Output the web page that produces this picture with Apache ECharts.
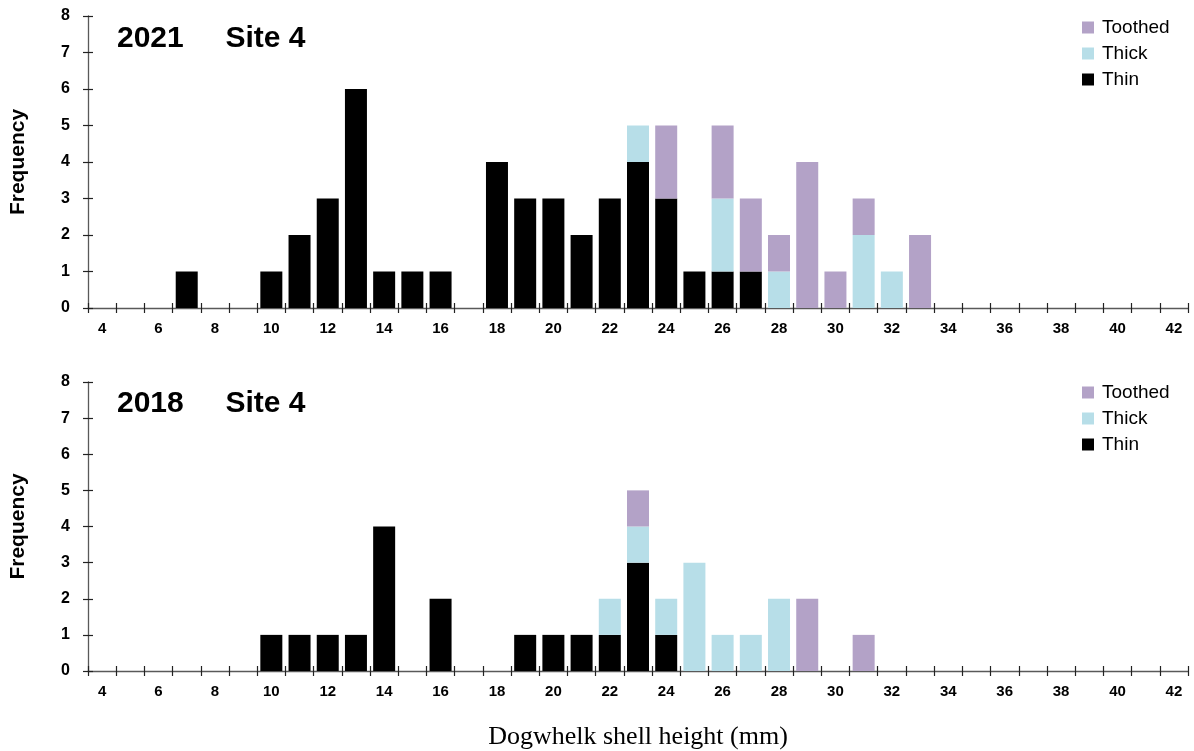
<!DOCTYPE html>
<html>
<head>
<meta charset="utf-8">
<script src="https://cdn.jsdelivr.net/npm/echarts@6/dist/echarts.min.js"></script>
<style>
  html, body { margin: 0; padding: 0; background: #fff; }
  #chart { width: 1194px; height: 751px; }
</style>
</head>
<body>
<div id="chart"></div>
<script>
// shell height classes (mm)
let sizes = ['4','5','6','7','8','9','10','11','12','13','14','15','16','17','18','19','20','21','22','23',
             '24','25','26','27','28','29','30','31','32','33','34','35','36','37','38','39','40','41','42'];

// 2021, site 4
let thin2021    = [0,0,0,1,0,0,1,2,3,6, 1,1,1,0,4,3,3,2,3,4, 3,1,1,1,0,0,0,0,0,0, 0,0,0,0,0,0,0,0,0];
let thick2021   = [0,0,0,0,0,0,0,0,0,0, 0,0,0,0,0,0,0,0,0,1, 0,0,2,0,1,0,0,2,1,0, 0,0,0,0,0,0,0,0,0];
let toothed2021 = [0,0,0,0,0,0,0,0,0,0, 0,0,0,0,0,0,0,0,0,0, 2,0,2,2,1,4,1,1,0,2, 0,0,0,0,0,0,0,0,0];

// 2018, site 4
let thin2018    = [0,0,0,0,0,0,1,1,1,1, 4,0,2,0,0,1,1,1,1,3, 1,0,0,0,0,0,0,0,0,0, 0,0,0,0,0,0,0,0,0];
let thick2018   = [0,0,0,0,0,0,0,0,0,0, 0,0,0,0,0,0,0,0,1,1, 1,3,1,1,2,0,0,0,0,0, 0,0,0,0,0,0,0,0,0];
let toothed2018 = [0,0,0,0,0,0,0,0,0,0, 0,0,0,0,0,0,0,0,0,1, 0,0,0,0,0,2,0,1,0,0, 0,0,0,0,0,0,0,0,0];

let panelTitles = ['2021     Site 4', '2018     Site 4'];
let yTicks = [0, 8, 1]; // min, max, step

let sans = 'Liberation Sans, Arial, sans-serif';
let colThin = '#000000', colThick = '#B7DEE8', colToothed = '#B3A2C7';
let axisCol = '#595959';

let myChart = echarts.init(document.getElementById('chart'));

let mainX = (grid, withName) => ({
    type: 'category', gridIndex: grid, data: sizes, position: 'bottom',
    axisLine: { show: true, lineStyle: { color: axisCol, width: 1.3 } },
    axisTick: { show: true, interval: 0, length: 5, lineStyle: { color: '#222', width: 1.2 } },
    axisLabel: { interval: 1, margin: 13, color: '#000', fontFamily: sans, fontWeight: 'bold', fontSize: 15 },
    splitLine: { show: false },
    name: withName ? 'Dogwhelk shell height (mm)' : '',
    nameLocation: 'middle', nameGap: 53,
    nameTextStyle: { fontFamily: 'Liberation Serif, Times New Roman, serif', fontSize: 26, color: '#000' }
});
// second axis only for the inner half of the crossing ticks
let innerX = (grid) => ({
    type: 'category', gridIndex: grid, data: sizes, position: 'bottom',
    axisLine: { show: false },
    axisTick: { show: true, inside: true, interval: 0, length: 5, lineStyle: { color: '#222', width: 1.2 } },
    axisLabel: { show: false }, splitLine: { show: false }
});
let mainY = (grid) => ({
    type: 'value', gridIndex: grid, min: yTicks[0], max: yTicks[1], interval: yTicks[2], position: 'left',
    axisLine: { show: true, lineStyle: { color: axisCol, width: 1.3 } },
    axisTick: { show: true, length: 5, lineStyle: { color: '#222', width: 1.2 } },
    axisLabel: { margin: 18, color: '#000', fontFamily: sans, fontWeight: 'bold', fontSize: 16 },
    splitLine: { show: false },
    name: 'Frequency', nameLocation: 'middle', nameGap: 59, nameRotate: 90,
    nameTextStyle: { fontFamily: sans, fontWeight: 'bold', fontSize: 21, color: '#000' }
});
let innerY = (grid) => ({
    type: 'value', gridIndex: grid, min: yTicks[0], max: yTicks[1], interval: yTicks[2], position: 'left',
    axisLine: { show: false },
    axisTick: { show: true, inside: true, length: 5, lineStyle: { color: '#222', width: 1.2 } },
    axisLabel: { show: false }, splitLine: { show: false }
});

let bar = (name, data, color, xi, stack) => ({
    name: name, type: 'bar', stack: stack, data: data,
    xAxisIndex: xi, yAxisIndex: xi,
    barCategoryGap: '22%',
    itemStyle: { color: color },
    emphasis: { disabled: true }
});

let legend = (top) => ({
    data: ['Toothed', 'Thick', 'Thin'], orient: 'vertical', left: 1077, top: top,
    icon: 'rect', itemWidth: 12, itemHeight: 12, itemGap: 7,
    itemStyle: { borderWidth: 0 },
    textStyle: { fontFamily: sans, fontSize: 19, color: '#000', padding: [0, 0, 0, 3] }
});

let option = {
    animation: false,
    backgroundColor: '#fff',
    title: [
        { text: panelTitles[0], left: 117, top: 24, padding: 0,
          textStyle: { fontFamily: sans, fontWeight: 'bold', fontSize: 30, color: '#000' } },
        { text: panelTitles[1], left: 117, top: 389, padding: 0,
          textStyle: { fontFamily: sans, fontWeight: 'bold', fontSize: 30, color: '#000' } }
    ],
    legend: [legend(13), legend(378)],
    grid: [
        { left: 87, right: 6, top: 16, bottom: 443 },
        { left: 87, right: 6, top: 382, bottom: 79 }
    ],
    xAxis: [mainX(0, false), innerX(0), mainX(1, true), innerX(1)],
    yAxis: [mainY(0), innerY(0), mainY(1), innerY(1)],
    series: [
        bar('Thin', thin2021, colThin, 0, 's2021'),
        bar('Thick', thick2021, colThick, 0, 's2021'),
        bar('Toothed', toothed2021, colToothed, 0, 's2021'),
        bar('Thin', thin2018, colThin, 2, 's2018'),
        bar('Thick', thick2018, colThick, 2, 's2018'),
        bar('Toothed', toothed2018, colToothed, 2, 's2018')
    ]
};
myChart.setOption(option);
</script>
</body>
</html>
